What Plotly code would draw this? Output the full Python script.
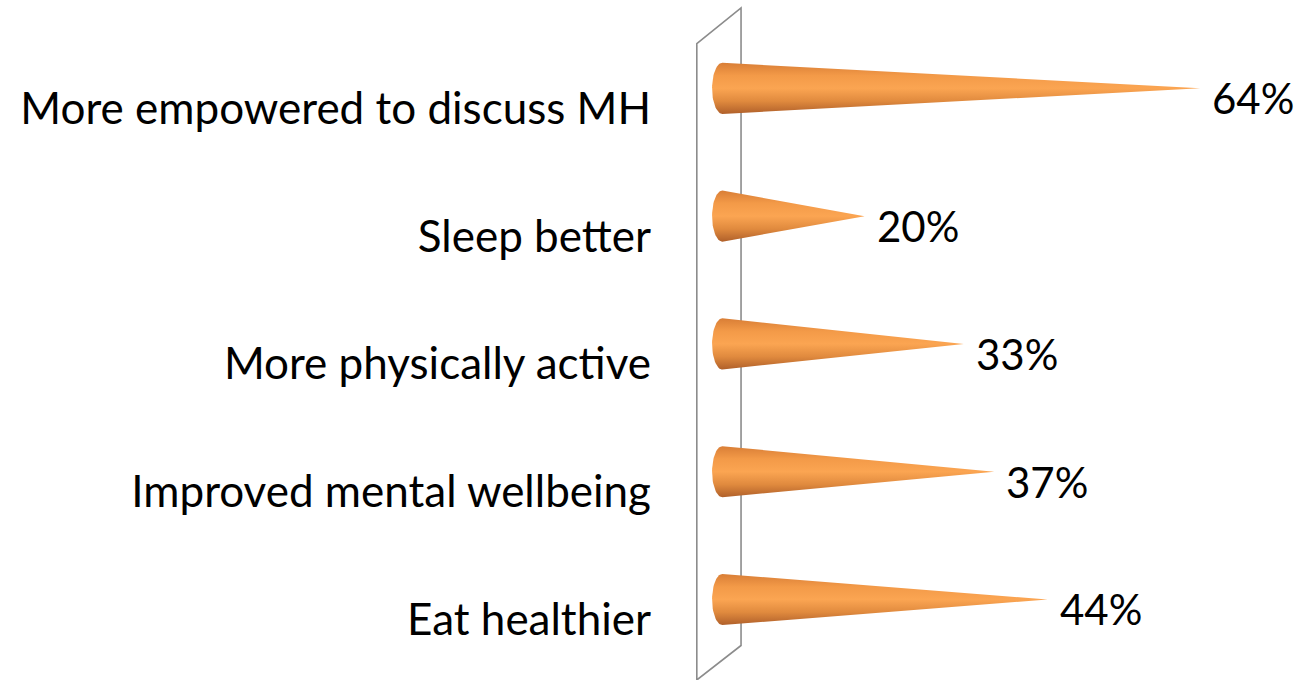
import numpy as np
import plotly.graph_objects as go

categories = ["Eat healthier", "Improved mental wellbeing", "More physically active",
              "Sleep better", "More empowered to discuss MH"]
values = [44, 37, 33, 20, 64]
value_labels = ["44%", "37%", "33%", "20%", "64%"]

FONT = "Lato, Carlito, Calibri, sans-serif"
RX = 1.35   # ellipse half-width of cone base (data units, x)
RY = 0.20   # cone half-height (data units, y)

fig = go.Figure()

theta = np.linspace(np.pi / 2, 3 * np.pi / 2, 40)
for i, (cat, v) in enumerate(zip(categories, values)):
    xs = list(RX + RX * np.cos(theta)) + [v, RX]
    ys = list(i + RY * np.sin(theta)) + [i, i + RY]
    fig.add_trace(go.Scatter(
        x=xs, y=ys, mode="lines", fill="toself",
        line=dict(width=0, color="rgba(0,0,0,0)"),
        fillgradient=dict(type="vertical",
                          colorscale=[[0.0, "#b0602a"], [0.25, "#e08a3e"],
                                      [0.5, "#fba552"], [0.75, "#f39a48"],
                                      [1.0, "#d97e36"]]),
        hoverinfo="skip", showlegend=False,
    ))
    fig.add_annotation(x=v, y=i, text=value_labels[i], showarrow=False,
                       xanchor="left", yanchor="middle", xshift=10, yshift=-10,
                       font=dict(family=FONT, size=42, color="#000000"))

# back wall (decorative parallelogram)
fig.add_shape(type="path",
              path="M -2.0,4.35 L 3.8,4.63 L 3.8,-0.36 L -2.0,-0.63 Z",
              xref="x", yref="y", line=dict(color="#8c8c8c", width=1.6),
              fillcolor="rgba(0,0,0,0)", layer="below")

fig.update_layout(
    width=1303, height=680,
    margin=dict(l=693, r=19, t=4, b=0),
    paper_bgcolor="white", plot_bgcolor="white",
    xaxis=dict(range=[-2.5, 75], visible=False, fixedrange=True),
    yaxis=dict(range=[-0.63, 4.66], tickvals=list(range(len(categories))),
               ticktext=categories, showgrid=False, zeroline=False,
               showline=False, ticks="", ticklabelstandoff=41,
               ticklabelshift=20,
               tickfont=dict(family=FONT, size=44, color="#000000")),
    showlegend=False,
)

fig.write_html("out.html")
